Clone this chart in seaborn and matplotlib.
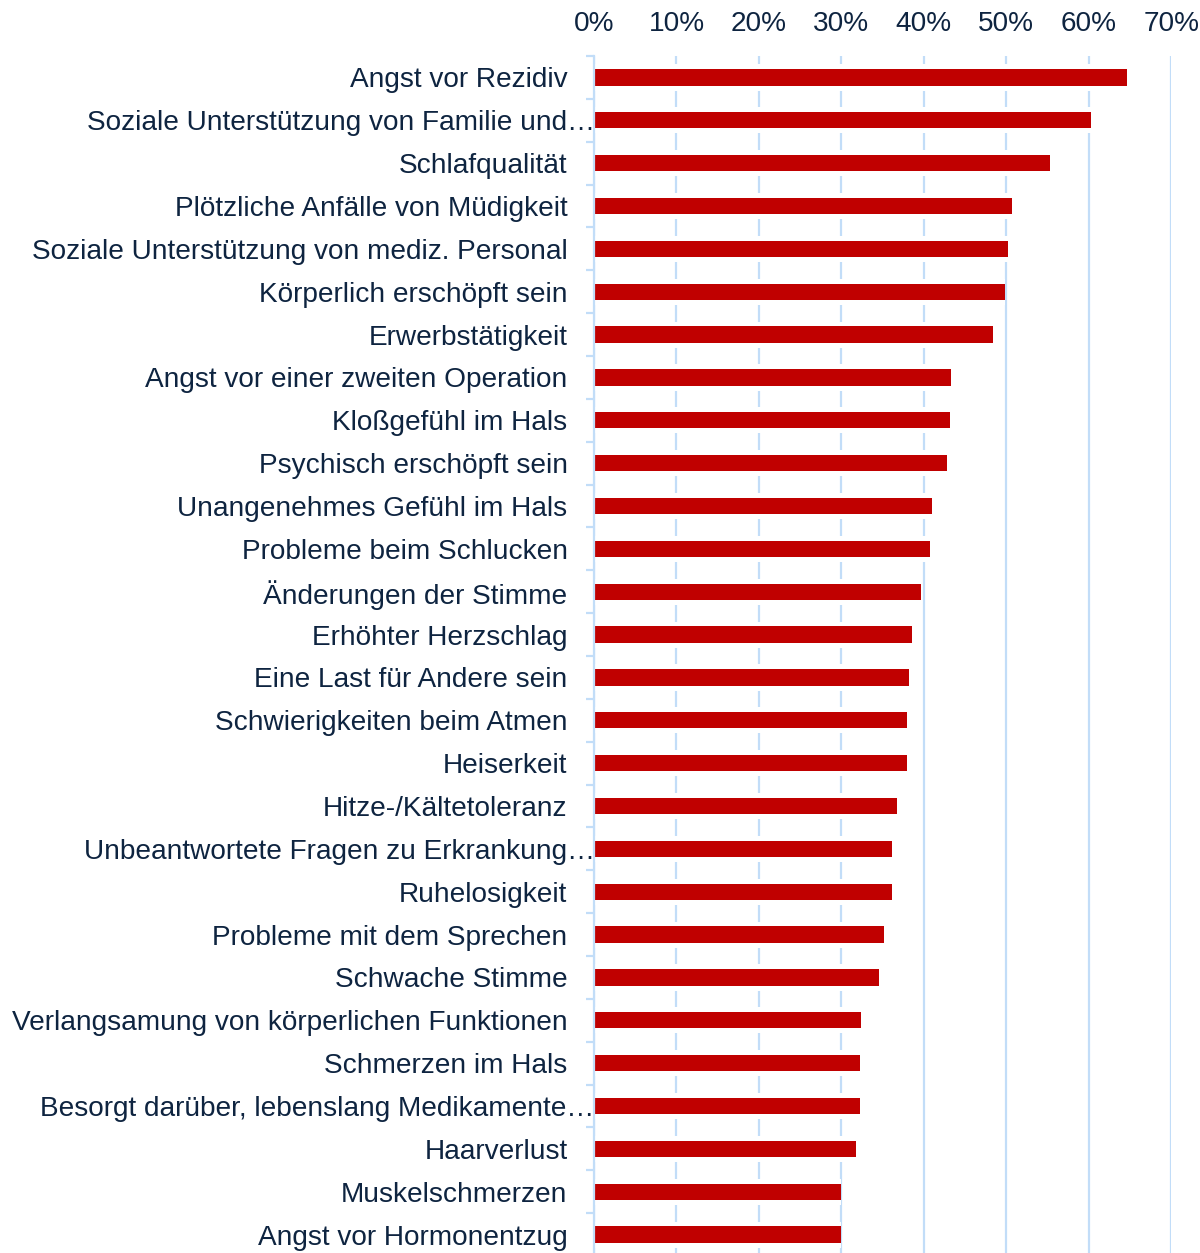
import matplotlib
matplotlib.use("Agg")
import matplotlib.pyplot as plt
import matplotlib.transforms as mtransforms
from matplotlib.ticker import FixedLocator, MultipleLocator, PercentFormatter
import seaborn as sns
import pandas as pd

# data (share of patients, %)
categories = [
    "Angst vor Rezidiv",
    "Soziale Unterstützung von Familie und…",
    "Schlafqualität",
    "Plötzliche Anfälle von Müdigkeit",
    "Soziale Unterstützung von mediz. Personal",
    "Körperlich erschöpft sein",
    "Erwerbstätigkeit",
    "Angst vor einer zweiten Operation",
    "Kloßgefühl im Hals",
    "Psychisch erschöpft sein",
    "Unangenehmes Gefühl im Hals",
    "Probleme beim Schlucken",
    "Änderungen der Stimme",
    "Erhöhter Herzschlag",
    "Eine Last für Andere sein",
    "Schwierigkeiten beim Atmen",
    "Heiserkeit",
    "Hitze-/Kältetoleranz",
    "Unbeantwortete Fragen zu Erkrankung…",
    "Ruhelosigkeit",
    "Probleme mit dem Sprechen",
    "Schwache Stimme",
    "Verlangsamung von körperlichen Funktionen",
    "Schmerzen im Hals",
    "Besorgt darüber, lebenslang Medikamente…",
    "Haarverlust",
    "Muskelschmerzen",
    "Angst vor Hormonentzug",
]
values = [64.6, 60.3, 55.3, 50.7, 50.2, 49.8, 48.4, 43.3, 43.2, 42.8,
          41.0, 40.7, 39.7, 38.6, 38.2, 37.9, 37.9, 36.8, 36.2, 36.2,
          35.2, 34.6, 32.4, 32.2, 32.2, 31.8, 30.0, 29.9]

df = pd.DataFrame({"item": categories, "share": values})

bar_red = "#c00000"
grid_blue = "#c2ddf8"
text_col = "#0e2440"

sns.set_theme(style="white")
plt.rcParams['font.family'] = ['Liberation Sans', 'DejaVu Sans']

fig = plt.figure(figsize=(12, 12.53), dpi=100)
ax = fig.add_axes([0.495, -0.0024, 0.481, 0.9577])

# white halo behind each bar hides the gridlines around it
sns.barplot(data=df, x="share", y="item", orient="h", color="white",
            width=0.61, saturation=1, edgecolor="none", ax=ax, zorder=2)
sns.barplot(data=df, x="share", y="item", orient="h", color=bar_red,
            width=0.38, saturation=1, edgecolor="none", ax=ax, zorder=3)

ax.set_xlim(0, 70)
ax.set_ylim(len(categories) - 0.5, -0.5)
ax.xaxis.set_major_locator(MultipleLocator(10))
ax.xaxis.set_major_formatter(PercentFormatter(decimals=0))
ax.xaxis.tick_top()
ax.set_xlabel("")
ax.set_ylabel("")

ax.set_axisbelow(True)
ax.xaxis.grid(True, color=grid_blue, linewidth=1.6)
ax.yaxis.grid(False)

for side in ["top", "right", "bottom"]:
    ax.spines[side].set_visible(False)
ax.spines["left"].set_color(grid_blue)
ax.spines["left"].set_linewidth(1.6)
ax.spines["left"].set_zorder(4)

ax.tick_params(axis="x", length=0, pad=14, labelsize=20.2, labelcolor=text_col)
ax.tick_params(axis="y", which="major", length=0, pad=19, labelsize=20.2,
               labelcolor=text_col)
# tick marks between categories
ax.yaxis.set_minor_locator(FixedLocator([i - 0.5 for i in range(len(categories) + 1)]))
ax.tick_params(axis="y", which="minor", left=True, length=6, width=1.6,
               color=grid_blue, direction="out")

# truncated labels overflow towards the axis, as in the original
for lab in ax.get_yticklabels():
    if lab.get_text().endswith("…"):
        off = mtransforms.ScaledTranslation(27 / 100, 0, fig.dpi_scale_trans)
        lab.set_transform(lab.get_transform() + off)

fig.savefig("out.png", dpi=100, facecolor="white")
